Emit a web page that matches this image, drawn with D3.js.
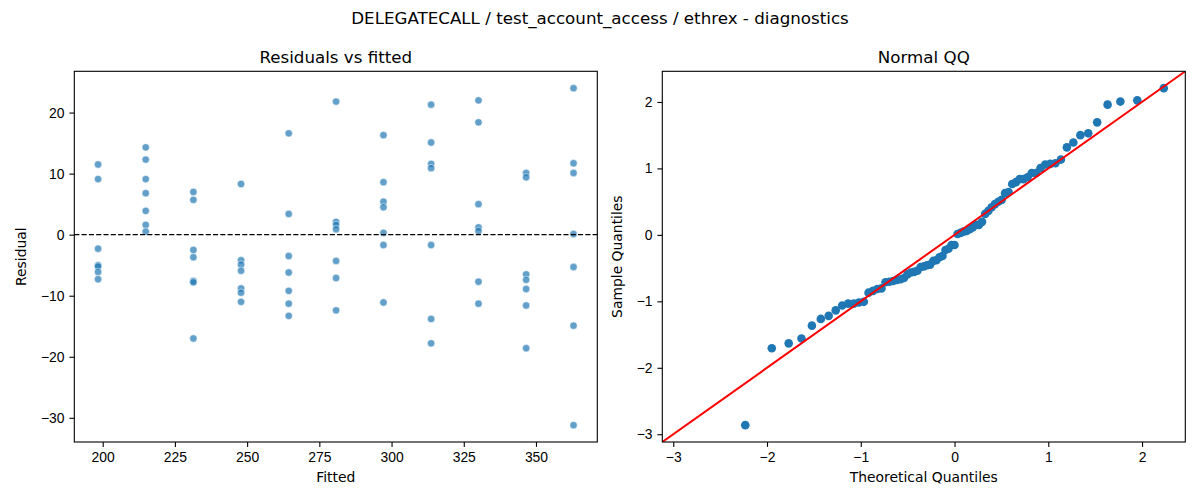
<!DOCTYPE html>
<html>
<head>
<meta charset="utf-8">
<script src="https://cdn.jsdelivr.net/npm/d3@7"></script>
<style>
  body { margin: 0; background: #fff; }
  svg { display: block; font-family: "DejaVu Sans", sans-serif; }
</style>
</head>
<body>
<svg id="chart" width="1200" height="500"></svg>
<script>
// fitted value of each group (x position of the columns)
const fitted = [198.4, 214.9, 231.4, 247.9, 264.4, 280.8, 297.2, 313.7, 330.1, 346.6, 363.0];
// residuals per fitted group
const residuals = [
  [11.5, 9.1, -2.3, -5.0, -5.2, -6.1, -7.3],
  [14.3, 12.3, 9.1, 6.8, 3.9, 1.6, 0.5],
  [7.0, 5.7, -2.5, -3.7, -7.6, -7.8, -17.0],
  [8.3, -4.2, -4.9, -5.9, -8.8, -9.5, -11.0],
  [16.6, 3.4, -3.5, -6.2, -9.2, -11.3, -13.3],
  [21.8, 2.1, 1.6, 0.9, -4.3, -7.1, -12.4],
  [16.3, 8.6, 5.4, 4.5, 0.3, -1.7, -11.1],
  [21.3, 15.1, 11.6, 10.9, -1.7, -13.8, -17.8],
  [22.0, 18.4, 5.0, 1.2, 0.6, -7.7, -11.3],
  [10.1, 9.4, -6.5, -7.4, -8.9, -11.6, -18.6],
  [24.0, 11.7, 10.1, 0.1, -5.3, -14.9, -31.2]
];
const fittedTicks = [200, 225, 250, 275, 300, 325, 350];
const residualTicks = [-30, -20, -10, 0, 10, 20];
const qqTicks = [-3, -2, -1, 0, 1, 2];

const suptitle = 'DELEGATECALL / test_account_access / ethrex - diagnostics';

const svg = d3.select('#chart');
const TICK = 4.9;
const FONT = '13.9px';
const blue = '#1f77b4';
const intFmt = d3.format('d');

// matplotlib style autoscale: 5% margin each side
const pad = (ext) => {
  const m = (ext[1] - ext[0]) * 0.05;
  return [ext[0] - m, ext[1] + m];
};

// inverse normal cdf (Acklam) for the theoretical quantiles
function normPpf (p) {
  const a = [-3.969683028665376e+01, 2.209460984245205e+02, -2.759285104469687e+02, 1.383577518672690e+02, -3.066479806614716e+01, 2.506628277459239e+00];
  const b = [-5.447609879822406e+01, 1.615858368580409e+02, -1.556989798598866e+02, 6.680131188771972e+01, -1.328068155922803e+01];
  const c = [-7.784894002430293e-03, -3.223964580411365e-01, -2.400758276161355e+00, -2.549732539343734e+00, 4.374664141464968e+00, 2.938163982698783e+00];
  const d = [7.784695709041462e-03, 3.224671290700398e-01, 2.445134137142996e+00, 3.754408661907416e+00];
  const plow = 0.02425;
  const tail = (q) => (((((c[0] * q + c[1]) * q + c[2]) * q + c[3]) * q + c[4]) * q + c[5]) /
    ((((d[0] * q + d[1]) * q + d[2]) * q + d[3]) * q + 1);
  if (p < plow) return tail(Math.sqrt(-2 * Math.log(p)));
  if (p > 1 - plow) return -tail(Math.sqrt(-2 * Math.log(1 - p)));
  const q = p - 0.5, r = q * q;
  return (((((a[0] * r + a[1]) * r + a[2]) * r + a[3]) * r + a[4]) * r + a[5]) * q /
    (((((b[0] * r + b[1]) * r + b[2]) * r + b[3]) * r + b[4]) * r + 1);
}

function frame (g, w, h) {
  g.append('rect')
    .attr('width', w).attr('height', h)
    .attr('fill', 'none').attr('stroke', '#000').attr('stroke-width', 1.1);
}

function styleAxis (sel) {
  sel.select('.domain').remove();
  sel.selectAll('.tick line').attr('stroke', '#000').attr('stroke-width', 1.1);
  sel.selectAll('.tick text').attr('fill', '#000').style('font-size', FONT);
}

function labels (g, w, h, title, xl, yl, yOff) {
  g.append('text').attr('x', w / 2).attr('y', -8.3)
    .attr('text-anchor', 'middle').style('font-size', '16.7px').text(title);
  g.append('text').attr('x', w / 2).attr('y', h + 40)
    .attr('text-anchor', 'middle').style('font-size', FONT).text(xl);
  g.append('text').attr('transform', `translate(${yOff},${h / 2}) rotate(-90)`)
    .attr('text-anchor', 'middle').style('font-size', FONT).text(yl);
}

svg.append('text').attr('x', 600).attr('y', 24)
  .attr('text-anchor', 'middle').style('font-size', '16.7px').text(suptitle);

// ---- left: residuals vs fitted
const W = 523, H = 370.7;
const left = svg.append('g').attr('transform', 'translate(74.3,71.3)');

const points = [];
fitted.forEach((f, i) => residuals[i].forEach(r => points.push({ f, r })));

const x1 = d3.scaleLinear().domain(pad(d3.extent(points, d => d.f))).range([0, W]);
const y1 = d3.scaleLinear().domain(pad(d3.extent(points, d => d.r))).range([H, 0]);

left.append('g').selectAll('circle').data(points).join('circle')
  .attr('cx', d => x1(d.f)).attr('cy', d => y1(d.r)).attr('r', 3.7)
  .attr('fill', blue).attr('fill-opacity', 0.7)
  .attr('stroke', '#fff').attr('stroke-opacity', 0.7).attr('stroke-width', 0.7);

left.append('line')
  .attr('x1', 0).attr('x2', W).attr('y1', y1(0)).attr('y2', y1(0))
  .attr('stroke', '#000').attr('stroke-width', 1.39).attr('stroke-dasharray', '5.1,2.2');

left.append('g').attr('transform', `translate(0,${H})`)
  .call(d3.axisBottom(x1).tickValues(fittedTicks).tickSize(TICK).tickPadding(4.9).tickFormat(intFmt))
  .call(styleAxis);
left.append('g')
  .call(d3.axisLeft(y1).tickValues(residualTicks).tickSize(TICK).tickPadding(4.9).tickFormat(intFmt))
  .call(styleAxis);
frame(left, W, H);
labels(left, W, H, 'Residuals vs fitted', 'Fitted', 'Residual', -48);

// ---- right: normal QQ (standardised residuals against normal quantiles)
const all = points.map(d => d.r).sort(d3.ascending);
const n = all.length;
const mu = d3.mean(all);
const sd = Math.sqrt(d3.sum(all, v => (v - mu) ** 2) / n);
const qq = all.map((v, i) => ({ t: normPpf((i + 1) / (n + 1)), s: (v - mu) / sd }));

const xe = pad(d3.extent(qq, d => d.t));
const ye = pad(d3.extent(qq, d => d.s));
const lim = [Math.min(xe[0], ye[0]), Math.max(xe[1], ye[1])];

const right = svg.append('g').attr('transform', 'translate(662.3,71.3)');
const x2 = d3.scaleLinear().domain(lim).range([0, W]);
const y2 = d3.scaleLinear().domain(lim).range([H, 0]);

right.append('clipPath').attr('id', 'qqclip')
  .append('rect').attr('width', W).attr('height', H);

right.append('g').selectAll('circle').data(qq).join('circle')
  .attr('cx', d => x2(d.t)).attr('cy', d => y2(d.s)).attr('r', 4.3)
  .attr('fill', blue);

right.append('line').attr('clip-path', 'url(#qqclip)')
  .attr('x1', x2(lim[0])).attr('y1', y2(lim[0]))
  .attr('x2', x2(lim[1])).attr('y2', y2(lim[1]))
  .attr('stroke', 'red').attr('stroke-width', 2);

right.append('g').attr('transform', `translate(0,${H})`)
  .call(d3.axisBottom(x2).tickValues(qqTicks).tickSize(TICK).tickPadding(4.9).tickFormat(intFmt))
  .call(styleAxis);
right.append('g')
  .call(d3.axisLeft(y2).tickValues(qqTicks).tickSize(TICK).tickPadding(4.9).tickFormat(intFmt))
  .call(styleAxis);
frame(right, W, H);
labels(right, W, H, 'Normal QQ', 'Theoretical Quantiles', 'Sample Quantiles', -40);
</script>
</body>
</html>
